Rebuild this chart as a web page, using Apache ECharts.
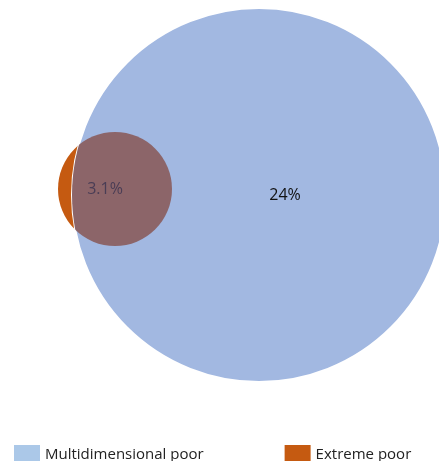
<!DOCTYPE html><html><head><meta charset="utf-8">
<script src="https://cdn.jsdelivr.net/npm/echarts@6/dist/echarts.min.js"></script>
<style>html,body{margin:0;padding:0;background:#fff}#c{width:439px;height:461px}</style></head>
<body><div id="c"></div><script>
const categories=['Multidimensional poor','Extreme poor'];
const labels=['24%','3.1%'];
const centersX=[259,115];
const centersY=[195,189];
const radii=[187,57];
const colors=['#a2b8e1','#c55a11'];
const overlapColor='#8c6569';
const chart=echarts.init(document.getElementById('c'));
function circ(api,i){const c=api.coord([centersX[i],centersY[i]]);const r=api.size([radii[i],0])[0];return {cx:c[0],cy:c[1],r:r};}
chart.setOption({
 animation:false,
 grid:{left:0,right:0,top:0,bottom:0},
 xAxis:{type:'value',min:0,max:439,show:false},
 yAxis:{type:'value',min:0,max:461,inverse:true,show:false},
 legend:{orient:'horizontal',top:440,left:9,width:439,itemGap:81,itemWidth:26,itemHeight:20,icon:'rect',
   textStyle:{fontFamily:'Open Sans',fontSize:15,color:'#222'},
   data:[{name:categories[0],itemStyle:{color:'#abc8e8'}},{name:categories[1],itemStyle:{color:colors[1]}}]},
 series:[
  {type:'custom',name:categories[1],coordinateSystem:'cartesian2d',data:[[0]],itemStyle:{color:colors[1]},
   renderItem:(p,api)=>({type:'circle',shape:circ(api,1),style:{fill:colors[1]}})},
  {type:'custom',name:categories[0],coordinateSystem:'cartesian2d',data:[[0]],itemStyle:{color:colors[0]},
   renderItem:(p,api)=>({type:'group',children:[
     {type:'circle',shape:circ(api,0),style:{fill:colors[0],stroke:'#fff',lineWidth:2}},
     {type:'circle',shape:circ(api,1),style:{fill:overlapColor},clipPath:{type:'circle',shape:circ(api,0)}},
     {type:'text',x:api.coord([285,0])[0],y:api.coord([0,centersY[0]])[1],style:{text:labels[0],fill:'#111',font:'16px Open Sans',align:'center',verticalAlign:'middle'}},
     {type:'text',x:api.coord([105,0])[0],y:api.coord([0,centersY[1]])[1],style:{text:labels[1],fill:'#4a3d55',font:'16px Open Sans',align:'center',verticalAlign:'middle'}}
   ]})}
 ]
});
</script></body></html>
